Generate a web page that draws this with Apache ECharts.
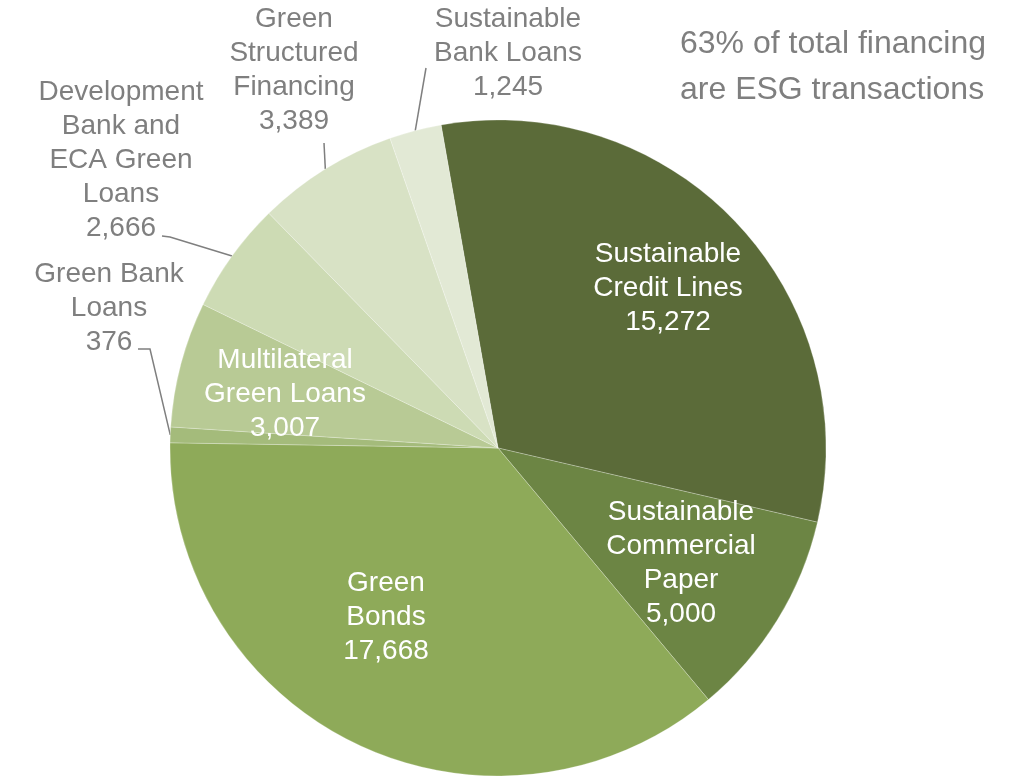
<!DOCTYPE html>
<html>
<head>
<meta charset="utf-8">
<script src="https://cdn.jsdelivr.net/npm/echarts@6/dist/echarts.min.js"></script>
<style>
html,body{margin:0;padding:0;background:#fff;}
#chart{width:1017px;height:776px;}
</style>
</head>
<body>
<div id="chart"></div>
<script>
// Data (clockwise from top)
const categories = [
  'Sustainable\nCredit Lines',
  'Sustainable\nCommercial\nPaper',
  'Green\nBonds',
  'Green Bank\nLoans',
  'Multilateral\nGreen Loans',
  'Development\nBank and\nECA Green\nLoans',
  'Green\nStructured\nFinancing',
  'Sustainable\nBank Loans'
];
const values = [15272, 5000, 17668, 376, 3007, 2666, 3389, 1245];
const note = '63% of total financing\nare ESG transactions';

// Styles / layout (not data)
const colors = ['#5b6b39', '#6c8544', '#8eaa59', '#a4bb7b', '#b8ca95', '#cddbb4', '#d8e2c5', '#e2e9d5'];
const inside = [true, true, true, false, true, false, false, false];
const labelPos = [
  {x: 668, y: 288},
  {x: 681, y: 563},
  {x: 386, y: 617},
  {x: 109, y: 308, line: [[41, 41], [29, 41]]},
  {x: 285, y: 394},
  {x: 121, y: 160, line: [[49, 77], [41, 76]]},
  {x: 294, y: 70, line: [[30, 73], [30, 73]]},
  {x: 508, y: 53, line: [[-82, 15], [-82, 15]]}
];
const FONT = '"Liberation Sans", Arial, sans-serif';
const GRAY = '#7f7f7f';

const seriesData = categories.map((name, i) => ({
  name: name,
  value: values[i],
  itemStyle: {color: colors[i]},
  label: inside[i]
    ? {position: 'inside', color: '#ffffff'}
    : {position: 'outside', color: GRAY},
  labelLine: {show: !inside[i]}
}));

const chart = echarts.init(document.getElementById('chart'), null, {renderer: 'canvas'});
chart.setOption({
  animation: false,
  backgroundColor: '#ffffff',
  title: {
    text: note,
    left: 680,
    top: 21,
    padding: 0,
    textStyle: {
      fontFamily: FONT,
      fontSize: 32,
      fontWeight: 'normal',
      lineHeight: 46,
      color: GRAY
    }
  },
  series: [{
    type: 'pie',
    center: [498, 448],
    radius: 328,
    startAngle: 100,
    clockwise: true,
    avoidLabelOverlap: false,
    itemStyle: {borderColor: 'rgba(255,255,255,0.3)', borderWidth: 0.8},
    label: {
      show: true,
      fontFamily: FONT,
      fontSize: 28,
      lineHeight: 34,
      align: 'center',
      formatter: p => p.name + '\n' + p.value.toLocaleString('en-US')
    },
    labelLine: {
      length: 10,
      length2: 10,
      lineStyle: {color: GRAY, width: 1.5}
    },
    emphasis: {disabled: true},
    labelLayout: function (p) {
      const L = labelPos[p.dataIndex];
      const res = {x: L.x, y: L.y, align: 'center', verticalAlign: 'middle'};
      if (L.line && p.labelLinePoints) {
        const pts = p.labelLinePoints;
        res.labelLinePoints = [
          pts[0],
          [L.x + L.line[0][0], L.y + L.line[0][1]],
          [L.x + L.line[1][0], L.y + L.line[1][1]]
        ];
      }
      return res;
    },
    data: seriesData
  }]
});
</script>
</body>
</html>
